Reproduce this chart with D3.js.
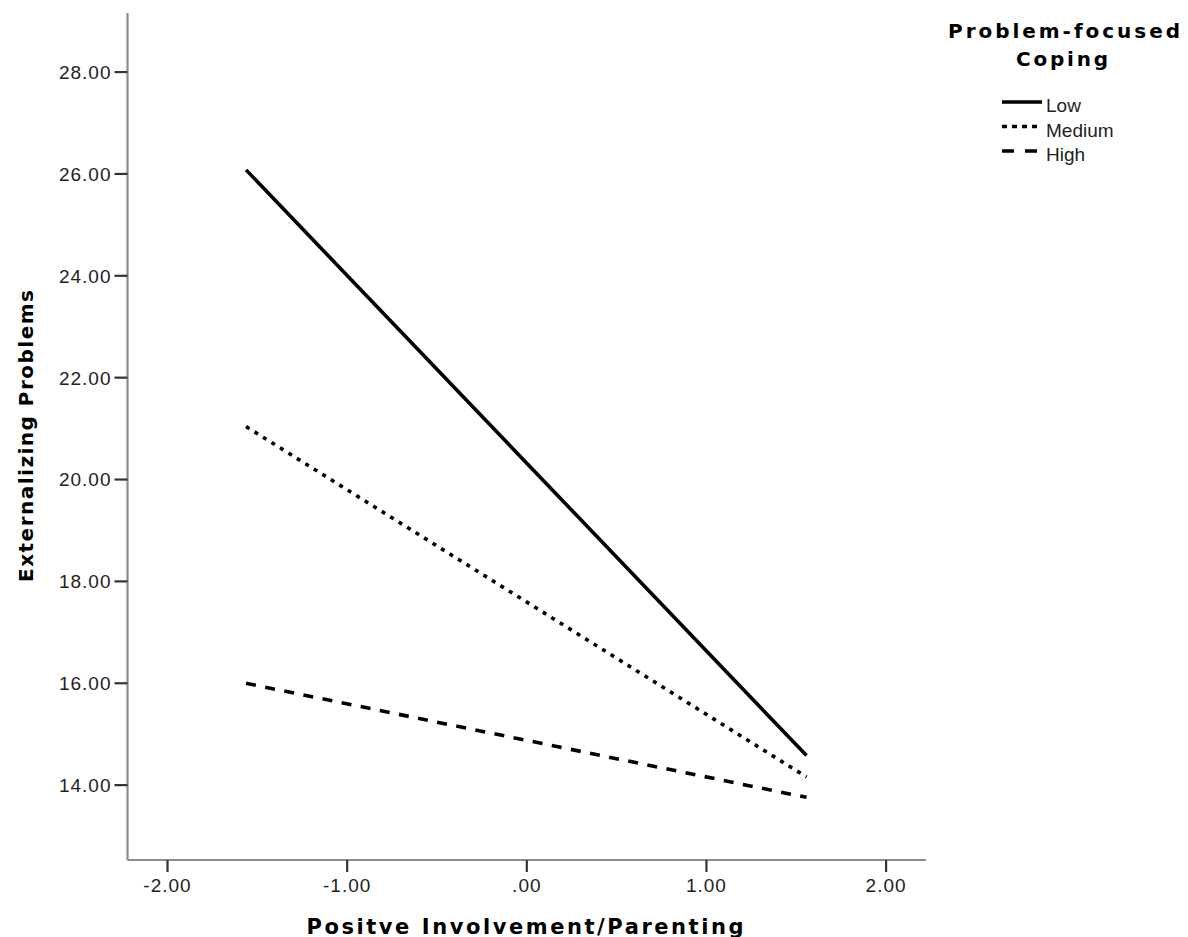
<!DOCTYPE html>
<html>
<head>
<meta charset="utf-8">
<script src="https://cdn.jsdelivr.net/npm/d3@7"></script>
<style>
  body { margin: 0; background: #fff; }
  svg { display: block; }
</style>
</head>
<body>
<svg id="chart"></svg>
<script>
// values
const xEnds = [-1.56, 1.56];
const seriesNames = ["Low", "Medium", "High"];
const lowValues = [26.07, 14.57];
const mediumValues = [21.03, 14.15];
const highValues = [15.99, 13.75];
const xTicks = [-2, -1, 0, 1, 2];
const yTicks = [14, 16, 18, 20, 22, 24, 26, 28];
const xTitle = "Positve Involvement/Parenting";
const yTitle = "Externalizing Problems";
const legendTitle = ["Problem-focused", "Coping"];

const W = 1188, H = 937;
const plot = { left: 127.5, right: 926, top: 13, bottom: 860 };

const svg = d3.select("#chart").attr("width", W).attr("height", H);

const x = d3.scaleLinear().domain([-2.22, 2.225]).range([plot.left, plot.right]);
const y = d3.scaleLinear().domain([12.52, 29.15]).range([plot.bottom, plot.top]);

// tick label format like SPSS: "-2.00", ".00", "14.00" (plain hyphen)
function fmt(v) {
  let s = d3.format(".2f")(v).replace("\u2212", "-");
  if (s === "0.00") s = ".00";
  return s;
}

const styles = {
  Low: { dash: null, legendDash: null },
  Medium: { dash: "4 6", legendDash: "5 5" },
  High: { dash: "10 9.5", legendDash: "12 11" }
};
const series = [
  { name: "Low", values: lowValues },
  { name: "Medium", values: mediumValues },
  { name: "High", values: highValues }
];

// axes
const xAxis = svg.append("g")
  .attr("transform", "translate(0," + plot.bottom + ")")
  .call(d3.axisBottom(x).tickValues(xTicks).tickFormat(fmt).tickSize(12).tickSizeOuter(0));
const yAxis = svg.append("g")
  .attr("transform", "translate(" + plot.left + ",0)")
  .call(d3.axisLeft(y).tickValues(yTicks).tickFormat(fmt).tickSize(13).tickSizeOuter(0));

[xAxis, yAxis].forEach(a => {
  a.select(".domain").attr("stroke", "#8c8c8c").attr("stroke-width", 2.2);
  a.selectAll(".tick line").attr("stroke", "#333").attr("stroke-width", 2.2);
  a.selectAll(".tick text")
    .attr("fill", "#222")
    .style("font-family", "'Liberation Sans', Arial, sans-serif")
    .style("font-size", "19px")
    .style("letter-spacing", "1px");
});
xAxis.select(".domain").attr("d", "M" + plot.left + ",0H" + plot.right);
yAxis.select(".domain").attr("d", "M0," + plot.top + "V" + plot.bottom);
xAxis.selectAll(".tick text").attr("y", 19).attr("dy", "0.71em");
yAxis.selectAll(".tick text").attr("x", -16).attr("dy", "0.36em");

// lines
const line = d3.line().x(d => x(d[0])).y(d => y(d[1]));
svg.append("g").selectAll("path")
  .data(series)
  .join("path")
  .attr("d", s => line(xEnds.map((xv, i) => [xv, s.values[i]])))
  .attr("fill", "none")
  .attr("stroke", "#000")
  .attr("stroke-width", 3.6)
  .attr("stroke-dasharray", s => styles[s.name].dash);

// axis titles
const titleFont = "'DejaVu Sans', Verdana, sans-serif";
svg.append("text")
  .attr("x", 525).attr("y", 934)
  .attr("text-anchor", "middle")
  .attr("textLength", 437).attr("lengthAdjust", "spacing")
  .style("font-family", titleFont).style("font-weight", "bold").style("font-size", "21px")
  .text(xTitle);

svg.append("text")
  .attr("transform", "translate(33,436) rotate(-90)")
  .attr("text-anchor", "middle")
  .attr("textLength", 292).attr("lengthAdjust", "spacing")
  .style("font-family", titleFont).style("font-weight", "bold").style("font-size", "20px")
  .text(yTitle);

// legend
const legend = svg.append("g");
legend.append("text")
  .attr("x", 1064).attr("y", 38)
  .attr("text-anchor", "middle")
  .attr("textLength", 232).attr("lengthAdjust", "spacing")
  .style("font-family", titleFont).style("font-weight", "bold").style("font-size", "20px")
  .text(legendTitle[0]);
legend.append("text")
  .attr("x", 1062).attr("y", 66)
  .attr("text-anchor", "middle")
  .attr("textLength", 92).attr("lengthAdjust", "spacing")
  .style("font-family", titleFont).style("font-weight", "bold").style("font-size", "20px")
  .text(legendTitle[1]);

const item = legend.selectAll("g.item")
  .data(seriesNames)
  .join("g")
  .attr("class", "item")
  .attr("transform", (d, i) => "translate(1002," + (102 + i * 24.5) + ")");
item.append("line")
  .attr("x1", 0).attr("x2", 40)
  .attr("stroke", "#000").attr("stroke-width", 3.6)
  .attr("stroke-dasharray", d => styles[d].legendDash);
item.append("text")
  .attr("x", 44).attr("y", 10)
  .attr("fill", "#222")
  .style("font-family", "'Liberation Sans', Arial, sans-serif")
  .style("font-size", "19px")
  .text(d => d);
</script>
</body>
</html>
